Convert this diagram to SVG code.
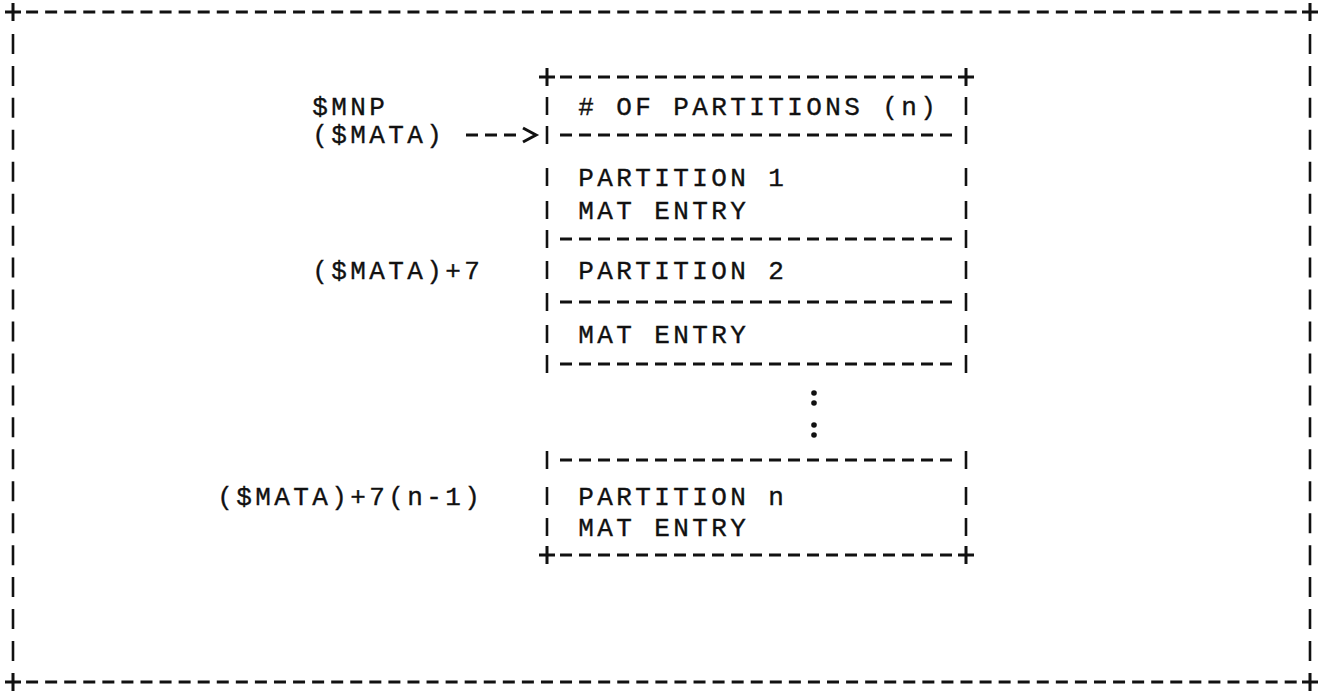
<svg xmlns="http://www.w3.org/2000/svg" width="1319" height="692" viewBox="0 0 1319 692">
<style>
  .t { font-family: "Liberation Mono", "DejaVu Sans Mono", monospace; font-size: 26px; letter-spacing: 3.4px; fill: #111; stroke: #111; stroke-width: 0.35; }
  .hd { stroke: #111; stroke-width: 3; fill: none; }
  .hdash { stroke: #111; stroke-width: 3; fill: none; stroke-dasharray: 12 7; }
  .odash { stroke: #111; stroke-width: 3; fill: none; stroke-dasharray: 12 7.07; }
  .vbar { stroke: #111; stroke-width: 2.6; fill: none; }
  .ovd { stroke: #111; stroke-width: 2.6; fill: none; stroke-dasharray: 20 11.95; }
  .dot { fill: #111; }
</style>
<rect width="1319" height="692" fill="#fff"/>

<g id="outer-frame">
  <line class="odash" x1="26.07" y1="12" x2="1296.9" y2="12"/>
  <line class="odash" x1="26.07" y1="682" x2="1296.9" y2="682"/>
  <line class="ovd" x1="13" y1="33.95" x2="13" y2="672"/>
  <line class="ovd" x1="1310" y1="33.95" x2="1310" y2="672"/>
  <path class="hd" d="M5 12h16M13 3v18M1302 12h16M1310 3v18M5 682h16M13 673v18M1302 682h16M1310 673v18"/>
</g>

<g id="labels">
  <text class="t" x="312.2" y="114.5">$MNP</text>
  <text class="t" x="312.2" y="142.5">($MATA)</text>
  <text class="t" x="312.2" y="278.5">($MATA)+7</text>
  <text class="t" x="217.2" y="504.5">($MATA)+7(n-1)</text>
</g>

<g id="connectors">
  <line class="hdash" x1="466" y1="135" x2="517" y2="135"/>
  <path class="hd" d="M523 128L536 135L523 142"/>
</g>

<g id="partition-table">
  <line class="hdash" x1="560" y1="77" x2="958" y2="77"/>
  <line class="hdash" x1="560" y1="555" x2="958" y2="555"/>
  <path class="hd" d="M539 77h16M547 68v18M958 77h16M966 68v18M539 555h16M547 546v18M958 555h16M966 546v18"/>
  <g id="separators">
    <line class="hdash" x1="560" y1="135" x2="958" y2="135"/>
    <line class="hdash" x1="560" y1="239" x2="958" y2="239"/>
    <line class="hdash" x1="560" y1="302" x2="958" y2="302"/>
    <line class="hdash" x1="560" y1="364" x2="958" y2="364"/>
    <line class="hdash" x1="560" y1="460" x2="958" y2="460"/>
  </g>
  <path class="vbar" d="M547 97v18M547 126v18M547 168v18M547 201v18M547 230v18M547 261v18M547 293v18M547 325v18M547 355v18M547 451v18M547 487v18M547 518v18
                        M966 97v18M966 126v18M966 168v18M966 201v18M966 230v18M966 261v18M966 293v18M966 325v18M966 355v18M966 451v18M966 487v18M966 518v18"/>
</g>

<g id="row-count">
  <text class="t" x="578.2" y="114.5"># OF PARTITIONS (n)</text>
</g>
<g id="row-partition-1">
  <text class="t" x="578.2" y="185.5">PARTITION 1</text>
  <text class="t" x="578.2" y="218.5">MAT ENTRY</text>
</g>
<g id="row-partition-2">
  <text class="t" x="578.2" y="278.5">PARTITION 2</text>
</g>
<g id="row-partition-2-mat">
  <text class="t" x="578.2" y="342.5">MAT ENTRY</text>
</g>
<g id="ellipsis">
  <circle class="dot" cx="814" cy="393" r="2.8"/>
  <circle class="dot" cx="814" cy="403" r="2.8"/>
  <circle class="dot" cx="814" cy="425" r="2.8"/>
  <circle class="dot" cx="814" cy="435" r="2.8"/>
</g>
<g id="row-partition-n">
  <text class="t" x="578.2" y="504.5">PARTITION n</text>
  <text class="t" x="578.2" y="535.5">MAT ENTRY</text>
</g>
</svg>
